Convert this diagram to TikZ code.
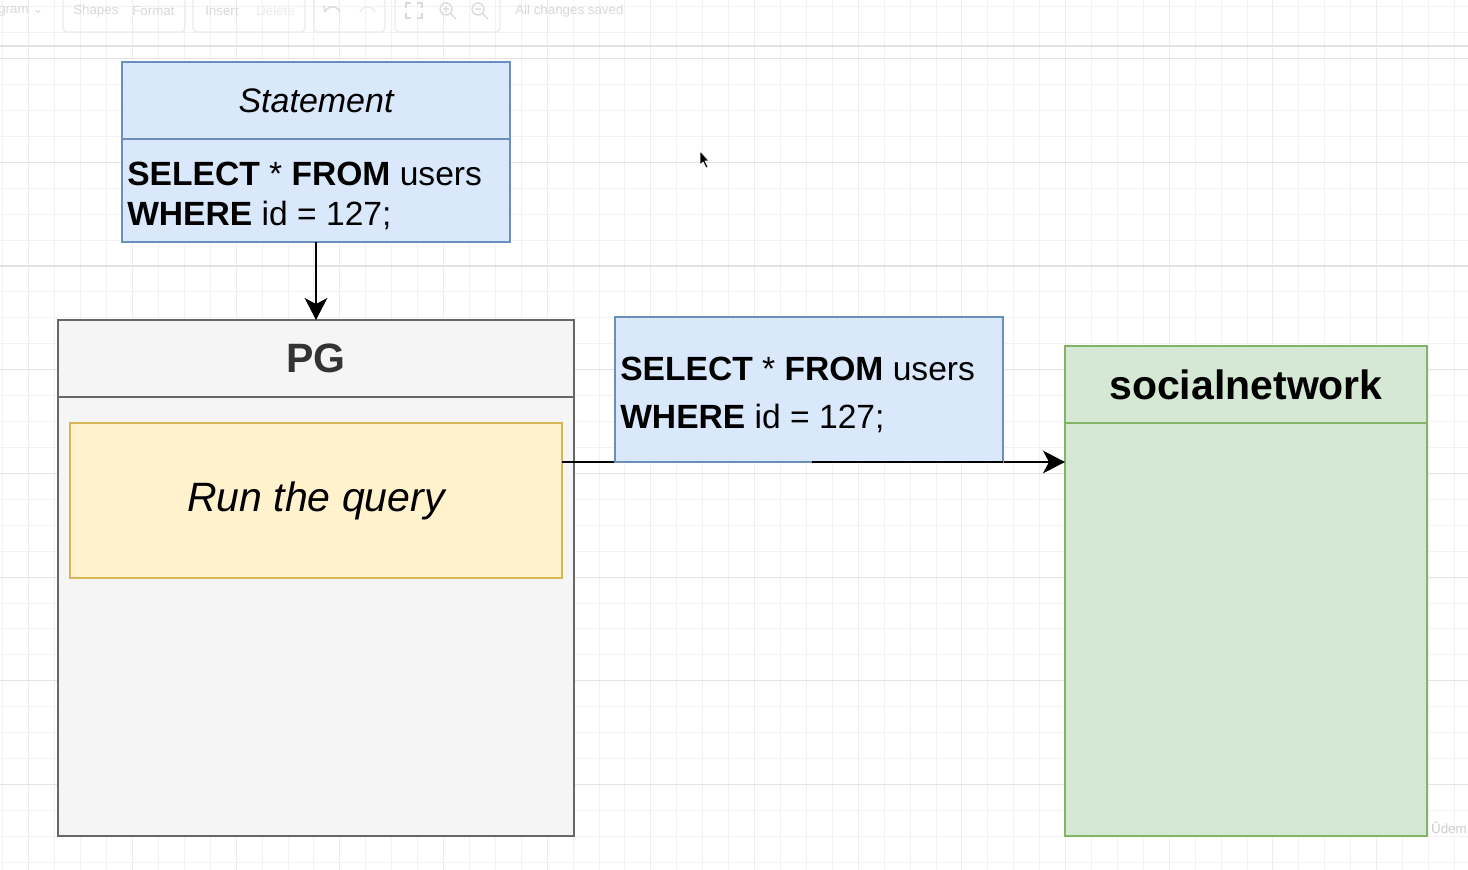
\documentclass[tikz,border=0pt]{standalone}
\usepackage{fontspec}
\setmainfont{Liberation Sans}
\newfontfamily\dejavu{DejaVu Sans}
\usetikzlibrary{arrows.meta}
\definecolor{bluefill}{HTML}{DAE8FC}
\definecolor{bluedraw}{HTML}{6C8EBF}
\definecolor{yelfill}{HTML}{FFF2CC}
\definecolor{yeldraw}{HTML}{D6B656}
\definecolor{grnfill}{HTML}{D5E8D4}
\definecolor{grndraw}{HTML}{82B366}
\definecolor{gryfill}{HTML}{F5F5F5}
\definecolor{grydraw}{HTML}{666666}
\definecolor{grytext}{HTML}{333333}
\definecolor{minorgrid}{HTML}{F2F2F2}
\definecolor{majorgridv}{HTML}{EDEDED}
\definecolor{majorgrid}{HTML}{E4E4E4}
\definecolor{tooltext}{HTML}{D9D9D9}
\tikzset{
  boxbase/.style={rectangle, inner sep=0pt, outer sep=0pt, line width=1.6pt},
  bluebox/.style={boxbase, fill=bluefill, draw=bluedraw},
  yelbox/.style={boxbase, fill=yelfill, draw=yeldraw},
  grnbox/.style={boxbase, fill=grnfill, draw=grndraw},
  grybox/.style={boxbase, fill=gryfill, draw=grydraw},
  titletext/.style={font=\fontsize{30.75}{36}\selectfont\bfseries},
  sqlline/.style={anchor=base west, inner sep=0pt, font=\fontsize{25.2}{29}\selectfont},
  flow/.style={line width=1.5pt, -{Stealth[length=16.5pt, width=17pt, inset=4.5pt]}},
  minorline/.style={draw=minorgrid, line width=0.75pt},
  majorvline/.style={draw=majorgridv, line width=0.75pt},
  majorline/.style={draw=majorgrid, line width=0.9pt},
  tooltxt/.style={text=tooltext, font=\fontsize{10}{12}\selectfont, inner sep=0pt, anchor=west},
  toolicon/.style={draw=tooltext, line width=1pt},
}
\begin{document}
\begin{tikzpicture}[x=0.75pt, y=-0.75pt]
\useasboundingbox (0,0) rectangle (1468,870);
\fill[white] (0,0) rectangle (1468,870);
% grid
\foreach \i in {0,...,56} { \draw[minorline] (2.88+25.92*\i,0) -- (2.88+25.92*\i,870); }
\foreach \j in {0,...,33} { \draw[minorline] (0,6.86+25.92*\j) -- (1468,6.86+25.92*\j); }
\foreach \i in {0,...,13} { \draw[majorvline] (28.8+103.68*\i,0) -- (28.8+103.68*\i,870); }
\foreach \j in {0,...,7} { \draw[majorline] (0,58.7+103.68*\j) -- (1468,58.7+103.68*\j); }
% faint toolbar
\draw[majorline] (0,46) -- (1468,46);
\node[tooltxt] (tbdiag) at (-2,11) {gram {\dejavu ⌄}};
\node[tooltxt] (tbshapes) at (73,11) {Shapes};
\node[tooltxt] (tbformat) at (132,11) {Format};
\node[tooltxt] (tbinsert) at (205,11) {Insert};
\node[tooltxt, text=tooltext!50] (tbdelete) at (256,11) {Delete};
\node[tooltxt] (tbsaved) at (515,11) {All changes saved};
\draw[toolicon, rounded corners=3pt, draw=tooltext!50] (63,-2) rectangle (185,32);
\draw[toolicon, rounded corners=3pt, draw=tooltext!50] (193,-2) rectangle (305,32);
\draw[toolicon, rounded corners=3pt, draw=tooltext!50] (314,-2) rectangle (385,32);
\draw[toolicon, rounded corners=3pt, draw=tooltext!50] (395,-2) rectangle (500,32);
\draw[toolicon] (325,12) arc (200:340:8);
\draw[toolicon] (325,12) -- (324,6);
\draw[toolicon, draw=tooltext!50] (360,12) arc (200:340:8);
\draw[toolicon] (406,8) -- (406,3) -- (411,3) (417,3) -- (422,3) -- (422,8) (422,13) -- (422,18) -- (417,18) (411,18) -- (406,18) -- (406,13);
\draw[toolicon] (446,9) circle (6);
\draw[toolicon] (450,13) -- (456,19) (443,9) -- (449,9) (446,6) -- (446,12);
\draw[toolicon] (478,9) circle (6);
\draw[toolicon] (482,13) -- (488,19) (475,9) -- (481,9);
% Statement
\node[bluebox, minimum width=291pt, minimum height=57.75pt, font=\fontsize{25.5}{30}\selectfont\itshape] (stmthead) at (316,100.5) {Statement};
\node[bluebox, minimum width=291pt, minimum height=77.25pt] (stmt) at (316,190.5) {};
\node[sqlline] (stmtl1) at (127,186) {\textbf{SELECT} * \textbf{FROM} users};
\node[sqlline] (stmtl2) at (127,225.5) {\textbf{WHERE} id = 127;};
% PG
\node[grybox, minimum width=387pt, minimum height=57.75pt, titletext, text=grytext] (pghead) at (316,358.5) {PG};
\node[grybox, minimum width=387pt, minimum height=329.25pt] (pg) at (316,616.5) {};
\node[yelbox, minimum width=369pt, minimum height=116.25pt, font=\fontsize{30.75}{36}\selectfont\itshape] (run) at (316,500.5) {Run the query};
% socialnetwork
\node[grnbox, minimum width=271.5pt, minimum height=57.75pt, titletext] (sochead) at (1246,384.5) {socialnetwork};
\node[grnbox, minimum width=271.5pt, minimum height=309.75pt] (social) at (1246,629.5) {};
% connectors
\draw[flow] (stmt.south) -- (pghead.north);
\coordinate (lvl) at (0,462);
\draw[flow] (run.east |- lvl) -- (social.west |- lvl);
% query label box
\node[bluebox, minimum width=291pt, minimum height=108.75pt] (sql) at (809,389.5) {};
\node[sqlline] (sqll1) at (620,380) {\textbf{SELECT} * \textbf{FROM} users};
\node[sqlline] (sqll2) at (620,428.5) {\textbf{WHERE} id = 127;};
\draw[line width=1.5pt] (812,462) -- (sql.south east);
% cursor
\fill[black, draw=white, line width=0.5pt] (700,151) -- (700,165) -- (703,162) -- (706,168) -- (708,167) -- (705,161) -- (709,161) -- cycle;
% watermark
\node[text=gray!40, font=\fontsize{10}{12}\selectfont, anchor=east, inner sep=0pt] (wm) at (1467,828) {Ûdem};
\end{tikzpicture}
\end{document}
